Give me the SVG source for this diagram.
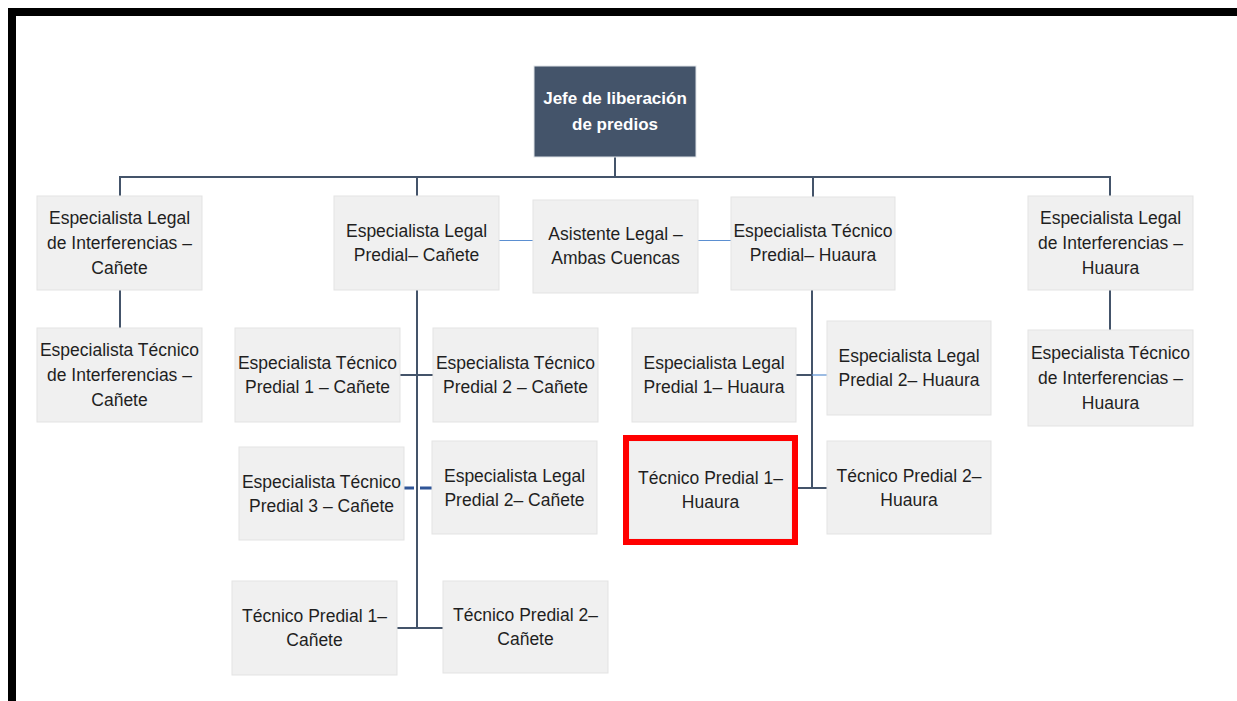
<svg xmlns="http://www.w3.org/2000/svg" width="1237" height="701" viewBox="0 0 1237 701">
<style>
.box{fill:#f0f0f0;stroke:#e3e3e3;stroke-width:1}
.t{font-family:"Liberation Sans",Arial,sans-serif;font-size:17.5px;fill:#1f1f1f;text-anchor:middle}
.root{fill:#44546a;stroke:#dfe3e8;stroke-width:1}
.rt{font-family:"Liberation Sans",Arial,sans-serif;font-size:17px;font-weight:bold;fill:#ffffff;text-anchor:middle}
.c{stroke:#44546a;stroke-width:2;fill:none}
.cb{stroke:#5b8fd1;stroke-width:1.2;fill:none}
.cd{stroke:#2f5597;stroke-width:3;fill:none}
</style>
<rect x="0" y="0" width="1237" height="701" fill="#ffffff"/>
<rect x="8" y="8" width="1229" height="8" fill="#000000"/>
<rect x="8" y="8" width="8" height="693" fill="#000000"/>

<g id="connectors">
<path class="c" d="M615 157V177M120 177H1110M120 176V196M417 176V196M813 176V197M1110 176V196"/>
<path class="c" d="M120 290V328M1110 290V330"/>
<path class="cb" d="M499 240.5H533M698 240.5H731"/>
<path class="c" d="M417 290V628M400 375H433M397 628H443"/>
<path class="cd" d="M404 488H414M420 488H432"/>
<path class="c" d="M812 290V488M796 375H812M798 488H827"/>
<path class="cb" d="M812 375H827"/>
</g>

<g id="n-root"><rect class="root" x="534" y="66" width="162" height="91"/>
<text class="rt" x="615" y="104">Jefe de liberación</text><text class="rt" x="615" y="130">de predios</text></g>

<g id="n-eli-canete"><rect class="box" x="37" y="196" width="165" height="94"/>
<text class="t" x="119.5" y="224">Especialista Legal</text><text class="t" x="119.5" y="249">de Interferencias –</text><text class="t" x="119.5" y="274">Cañete</text></g>

<g id="n-elp-canete"><rect class="box" x="334" y="196" width="165" height="94"/>
<text class="t" x="416.5" y="237">Especialista Legal</text><text class="t" x="416.5" y="261">Predial– Cañete</text></g>

<g id="n-asistente"><rect class="box" x="533" y="200" width="165" height="93"/>
<text class="t" x="615.5" y="240">Asistente Legal –</text><text class="t" x="615.5" y="264">Ambas Cuencas</text></g>

<g id="n-etp-huaura"><rect class="box" x="731" y="197" width="164" height="93"/>
<text class="t" x="813" y="237">Especialista Técnico</text><text class="t" x="813" y="261">Predial– Huaura</text></g>

<g id="n-eli-huaura"><rect class="box" x="1028" y="196" width="165" height="94"/>
<text class="t" x="1110.5" y="224">Especialista Legal</text><text class="t" x="1110.5" y="249">de Interferencias –</text><text class="t" x="1110.5" y="274">Huaura</text></g>

<g id="n-eti-canete"><rect class="box" x="37" y="328" width="165" height="94"/>
<text class="t" x="119.5" y="356">Especialista Técnico</text><text class="t" x="119.5" y="381">de Interferencias –</text><text class="t" x="119.5" y="406">Cañete</text></g>

<g id="n-etp1-canete"><rect class="box" x="235" y="328" width="165" height="94"/>
<text class="t" x="317.5" y="369">Especialista Técnico</text><text class="t" x="317.5" y="393">Predial 1 – Cañete</text></g>

<g id="n-etp2-canete"><rect class="box" x="433" y="328" width="165" height="94"/>
<text class="t" x="515.5" y="369">Especialista Técnico</text><text class="t" x="515.5" y="393">Predial 2 – Cañete</text></g>

<g id="n-etp3-canete"><rect class="box" x="239" y="447" width="165" height="93"/>
<text class="t" x="321.5" y="488">Especialista Técnico</text><text class="t" x="321.5" y="512">Predial 3 – Cañete</text></g>

<g id="n-elp2-canete"><rect class="box" x="432" y="441" width="165" height="93"/>
<text class="t" x="514.5" y="482">Especialista Legal</text><text class="t" x="514.5" y="506">Predial 2– Cañete</text></g>

<g id="n-tp1-canete"><rect class="box" x="232" y="581" width="165" height="94"/>
<text class="t" x="314.5" y="622">Técnico Predial 1–</text><text class="t" x="314.5" y="646">Cañete</text></g>

<g id="n-tp2-canete"><rect class="box" x="443" y="581" width="165" height="92"/>
<text class="t" x="525.5" y="621">Técnico Predial 2–</text><text class="t" x="525.5" y="645">Cañete</text></g>

<g id="n-elp1-huaura"><rect class="box" x="632" y="328" width="164" height="94"/>
<text class="t" x="714" y="369">Especialista Legal</text><text class="t" x="714" y="393">Predial 1– Huaura</text></g>

<g id="n-elp2-huaura"><rect class="box" x="827" y="321" width="164" height="94"/>
<text class="t" x="909" y="362">Especialista Legal</text><text class="t" x="909" y="386">Predial 2– Huaura</text></g>

<g id="n-tp1-huaura"><rect class="box" x="629" y="441" width="163" height="98"/>
<rect x="626" y="438" width="169" height="104" fill="none" stroke="#ff0000" stroke-width="6"/>
<text class="t" x="710.5" y="484">Técnico Predial 1–</text><text class="t" x="710.5" y="508">Huaura</text></g>

<g id="n-tp2-huaura"><rect class="box" x="827" y="441" width="164" height="93"/>
<text class="t" x="909" y="482">Técnico Predial 2–</text><text class="t" x="909" y="506">Huaura</text></g>

<g id="n-eti-huaura"><rect class="box" x="1028" y="330" width="165" height="96"/>
<text class="t" x="1110.5" y="359">Especialista Técnico</text><text class="t" x="1110.5" y="384">de Interferencias –</text><text class="t" x="1110.5" y="409">Huaura</text></g>
</svg>
